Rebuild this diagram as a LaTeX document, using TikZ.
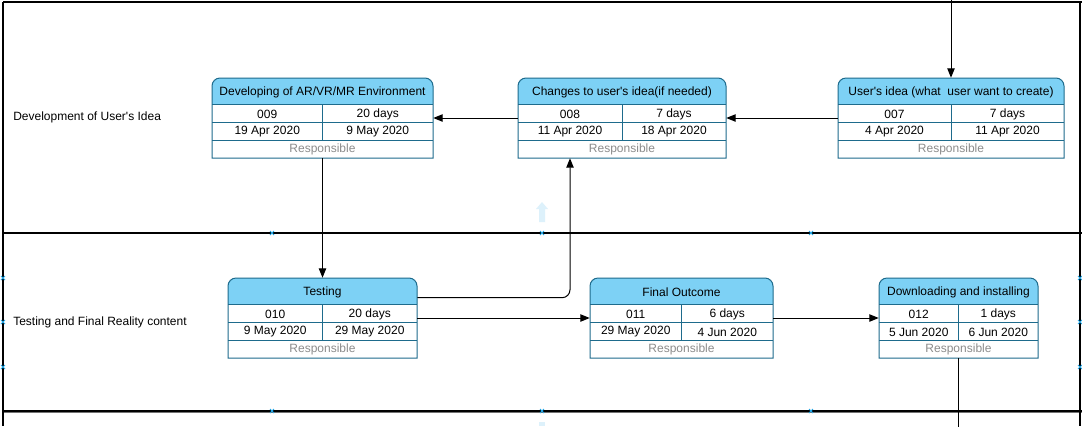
\documentclass[tikz,border=0pt]{standalone}
\usepackage{fontspec}
\setmainfont{Liberation Sans}
\usetikzlibrary{arrows.meta,calc,fit}
\definecolor{headfill}{HTML}{7DD1F5}
\definecolor{boxline}{HTML}{1E6B8C}
\definecolor{resp}{HTML}{8C8C8C}
\definecolor{handle}{HTML}{22A6E6}
\definecolor{ghost}{HTML}{DDF1FB}
\tikzset{
  lbl/.style={font=\fontsize{9}{11}\selectfont, inner sep=0pt},
  resptext/.style={lbl, text=resp},
  arr/.style={draw=black, line width=0.75pt, -{Triangle[length=7pt,width=5.5pt]}},
  plainline/.style={draw=black, line width=0.75pt},
  boxstroke/.style={draw=boxline, line width=0.75pt},
  lane/.style={draw=black, line width=0.9pt},
}
% name, x1, x2, ytop, title, id, duration, start, end
\newcommand{\taskbox}[9]{%
  \pgfmathsetmacro{\xm}{(#2+#3)/2}%
  \pgfmathsetmacro{\xl}{(#2+\xm)/2}%
  \pgfmathsetmacro{\xr}{(\xm+#3)/2}%
  \node[fit={(#2,#4) (#3,#4+80)}, inner sep=0pt] (#1) {};
  \fill[white] (#2,#4+26) rectangle (#3,#4+80);
  \fill[headfill] (#2,#4+26) [rounded corners=6pt] -- (#2,#4) -- (#3,#4) [sharp corners] -- (#3,#4+26) -- cycle;
  \draw[boxstroke] (#2,#4+80) -- (#2,#4+26) [rounded corners=6pt] -- (#2,#4) -- (#3,#4) [sharp corners] -- (#3,#4+80) -- cycle;
  \draw[boxstroke] (#2,#4+26) -- (#3,#4+26) (#2,#4+44) -- (#3,#4+44) (#2,#4+62) -- (#3,#4+62);
  \draw[boxstroke] (\xm,#4+26) -- (\xm,#4+62);
  \node[lbl] (#1-title) at (\xm,#4+14.5) {#5};
  \node[lbl] (#1-id) at (\xl,#4+36) {#6};
  \node[lbl] (#1-dur) at (\xr,#4+36) {#7};
  \node[lbl] (#1-start) at (\xl,#4+54) {#8};
  \node[lbl] (#1-end) at (\xr,#4+54) {#9};
  \node[resptext] (#1-resp) at (\xm,#4+71.5) {Responsible};
}
\newcommand{\handlemark}[2]{%
  \draw[handle, line width=0.6pt] (#1-2,#2-2) -- (#1+2,#2+2) (#1-2,#2+2) -- (#1+2,#2-2);
}
\begin{document}
\begin{tikzpicture}[x=0.75pt,y=-0.75pt]
\useasboundingbox (0,0) rectangle (1082,426);
\fill[white] (0,0) rectangle (1082,426);

% lanes
\draw[lane] (3,2) -- (1082,2);
\draw[draw=black, line width=1.5pt] (3,233) -- (1082,233);
\draw[draw=black!55, line width=0.75pt] (3,412.5) -- (1082,412.5);
\draw[draw=black, line width=0.9pt] (3,411) -- (1082,411);
\draw[lane] (3,2) -- (3,426);
\draw[lane] (1080,2) -- (1080,426);

% ghost arrows
\fill[ghost] (539,222) -- (539,209) -- (536,209) -- (542,202) -- (548,209) -- (545,209) -- (545,222) -- cycle;
\fill[ghost] (539,426) -- (539,422) -- (545,422) -- (545,426) -- cycle;

% handles
\foreach \hx in {272,542,811} {\handlemark{\hx}{233}\handlemark{\hx}{411}}
\foreach \hy in {278,322,367} {\handlemark{3}{\hy}\handlemark{1080}{\hy}}

% lane labels
\node[lbl, anchor=west] (lane1) at (13,117.5) {Development of User\textquotesingle s Idea};
\node[lbl, anchor=west] (lane2) at (13,322.5) {Testing and Final Reality content};

% boxes
\taskbox{A}{212}{433}{78}{Developing of AR/VR/MR Environment}{009}{20 days}{19 Apr 2020}{9 May 2020}
\taskbox{B}{518}{726}{78}{Changes to user\textquotesingle s idea(if needed)}{008}{7 days}{11 Apr 2020}{18 Apr 2020}
\taskbox{C}{838}{1064}{78}{User\textquotesingle s idea (what\ \ user want to create)}{007}{7 days}{4 Apr 2020}{11 Apr 2020}
\taskbox{D}{228}{417}{278}{Testing}{010}{20 days}{9 May 2020}{29 May 2020}
\taskbox{E}{590}{773}{278}{Final Outcome}{011}{6 days}{29 May 2020}{4 Jun 2020}
\taskbox{F}{879}{1038}{278}{Downloading and installing}{012}{1 days}{5 Jun 2020}{6 Jun 2020}

% connectors
\coordinate (ctop) at (951,-2);
\coordinate (fend) at (958.5,430);
\draw[arr] (ctop) -- (C.north);
\draw[arr] (C.west) -- (B.east);
\draw[arr] (B.west) -- (A.east);
\draw[arr] (A.south) -- (D.north);
\draw[arr, rounded corners=6pt] ($(D.north east)+(0,20)$) -| ($(B.south)+(-52,0)$);
\draw[arr] (D.east) -- (E.west);
\draw[arr] (E.east) -- (F.west);
\draw[plainline] (F.south) -- (fend);
\end{tikzpicture}
\end{document}
